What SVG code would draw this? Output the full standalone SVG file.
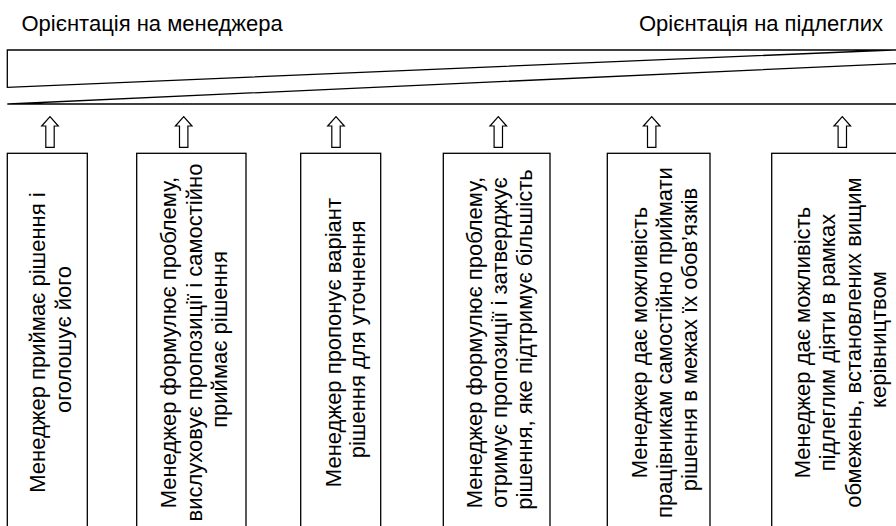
<svg xmlns="http://www.w3.org/2000/svg" width="896" height="526" viewBox="0 0 896 526">
  <style>
    .label { font-family: "Liberation Sans", Arial, sans-serif; font-size: 22px; fill: #000; }
    .box { fill: #fff; stroke: #000; stroke-width: 1.3; }
    .band { fill: none; stroke: #000; stroke-width: 1.3; }
    .up { fill: #fff; stroke: #000; stroke-width: 1.2; stroke-linejoin: miter; }
    .vtext { text-anchor: middle; }
  </style>
  <defs>
    <!-- hollow upward block arrow, centred on x=0 -->
    <polygon id="uparrow" class="up" points="0,116.7 8.3,126 4.2,126 4.2,147.3 -4.2,147.3 -4.2,126 -8.3,126"/>
  </defs>
  <rect width="896" height="526" fill="#fff"/>

  <!-- scale headings -->
  <g id="heading-left">
    <text class="label" x="21.5" y="31">Орієнтація на менеджера</text>
  </g>
  <g id="heading-right">
    <text class="label" x="883" y="31" text-anchor="end">Орієнтація на підлеглих</text>
  </g>

  <!-- wedge band showing the shift of orientation -->
  <g id="scale-band">
    <path class="band" d="M896,50 H7.3 V87.3 L893,50"/>
    <path class="band" d="M896,104 H7.3 M8,104 L896,63.6"/>
  </g>

  <!-- arrows from each style up to the scale -->
  <g id="connectors">
    <use href="#uparrow" x="50"/>
    <use href="#uparrow" x="183.7"/>
    <use href="#uparrow" x="336"/>
    <use href="#uparrow" x="498.3"/>
    <use href="#uparrow" x="651.7"/>
    <use href="#uparrow" x="842.3"/>
  </g>

  <!-- decision styles, text runs bottom-to-top -->
  <g id="style-1">
    <rect class="box" x="7.3" y="153.3" width="80" height="380"/>
    <text class="label vtext" transform="translate(0 339.5) rotate(-90)">
      <tspan x="0" y="45.3">Менеджер приймає рішення і</tspan>
      <tspan x="0" y="70.6">оголошує його</tspan>
    </text>
  </g>
  <g id="style-2">
    <rect class="box" x="136.7" y="153.3" width="109.3" height="380"/>
    <text class="label vtext" transform="translate(0 339.5) rotate(-90)">
      <tspan x="0" y="176.4">Менеджер формулює проблему,</tspan>
      <tspan x="0" y="201.7">вислуховує пропозиції і самостійно</tspan>
      <tspan x="0" y="227">приймає рішення</tspan>
    </text>
  </g>
  <g id="style-3">
    <rect class="box" x="300.7" y="153.3" width="80" height="380"/>
    <text class="label vtext" transform="translate(0 339.5) rotate(-90)">
      <tspan x="0" y="340.5">Менеджер пропонує варіант</tspan>
      <tspan x="0" y="365">рішення для уточнення</tspan>
    </text>
  </g>
  <g id="style-4">
    <rect class="box" x="443.3" y="153.3" width="106.7" height="380"/>
    <text class="label vtext" transform="translate(0 339.5) rotate(-90)">
      <tspan x="0" y="481.5">Менеджер формулює проблему,</tspan>
      <tspan x="0" y="506.8">отримує пропозиції і затверджує</tspan>
      <tspan x="0" y="532">рішення, яке підтримує більшість</tspan>
    </text>
  </g>
  <g id="style-5">
    <rect class="box" x="607.3" y="153.3" width="102.7" height="380"/>
    <text class="label vtext" transform="translate(0 339.5) rotate(-90)">
      <tspan x="0" y="646.7">Менеджер дає можливість</tspan>
      <tspan x="0" y="672">працівникам самостійно приймати</tspan>
      <tspan x="0" y="697.3">рішення в межах їх обов’язків</tspan>
    </text>
  </g>
  <g id="style-6">
    <rect class="box" x="771.7" y="153.3" width="134" height="380"/>
    <text class="label vtext" transform="translate(0 339.5) rotate(-90)">
      <tspan x="0" y="810">Менеджер дає можливість</tspan>
      <tspan x="0" y="835.3">підлеглим діяти в рамках</tspan>
      <tspan x="0" y="860.6">обмежень, встановлених вищим</tspan>
      <tspan x="0" y="885.9">керівництвом</tspan>
    </text>
  </g>
</svg>
